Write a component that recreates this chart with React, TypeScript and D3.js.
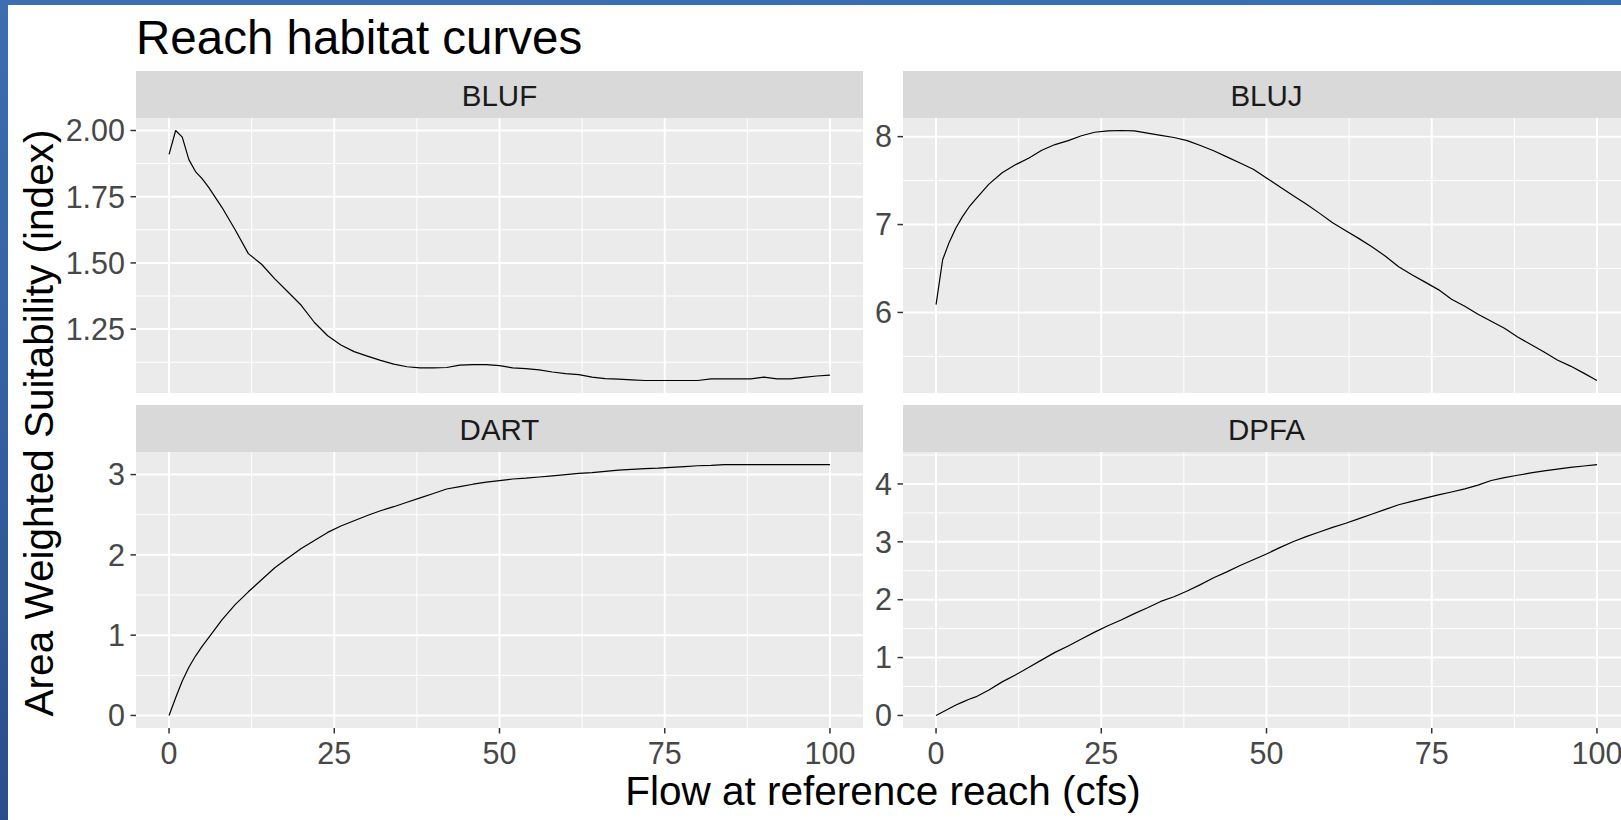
import React from "react";
import * as d3 from "d3";

// Flow values (cfs) shared by every species curve
const FLOWS = [
  0, 1, 2, 3, 4, 5, 6, 8, 10, 12, 14, 16, 18, 20, 22, 24, 26, 28, 30, 32, 34, 36, 38, 40,
  42, 44, 46, 48, 50, 52, 54, 56, 58, 60, 62, 64, 66, 68, 70, 72, 74, 76, 78, 80, 82, 84,
  86, 88, 90, 92, 94, 96, 98, 100,
];

// Area weighted suitability per species
const BLUF = [
  1.91, 2.0, 1.975, 1.89, 1.845, 1.818, 1.785, 1.71, 1.625, 1.535, 1.495, 1.44, 1.39, 1.34,
  1.275, 1.225, 1.19, 1.165, 1.148, 1.132, 1.118, 1.108, 1.104, 1.104, 1.105, 1.114, 1.116,
  1.116, 1.112, 1.104, 1.101, 1.096, 1.088, 1.082, 1.078, 1.069, 1.063, 1.061, 1.058, 1.056,
  1.056, 1.056, 1.056, 1.056, 1.062, 1.062, 1.062, 1.062, 1.069, 1.062, 1.062, 1.068, 1.073,
  1.076,
];
const BLUJ = [
  6.09, 6.6, 6.8, 6.96, 7.09, 7.2, 7.29, 7.46, 7.59, 7.68, 7.755, 7.845, 7.91, 7.955, 8.01,
  8.05, 8.065, 8.07, 8.065, 8.04, 8.015, 7.99, 7.955, 7.9, 7.84, 7.77, 7.7, 7.63, 7.53, 7.43,
  7.33, 7.235, 7.13, 7.02, 6.93, 6.84, 6.745, 6.64, 6.52, 6.43, 6.345, 6.26, 6.15, 6.07, 5.98,
  5.9, 5.82, 5.72, 5.635, 5.55, 5.46, 5.39, 5.31, 5.226,
];
const DART = [
  0.0, 0.22, 0.43, 0.6, 0.74, 0.86, 0.97, 1.19, 1.38, 1.54, 1.69, 1.84, 1.96, 2.08, 2.18,
  2.28, 2.36, 2.425, 2.49, 2.55, 2.6, 2.655, 2.71, 2.765, 2.82, 2.85, 2.88, 2.905, 2.925,
  2.945, 2.955, 2.97, 2.985, 3.0, 3.015, 3.025, 3.04, 3.055, 3.065, 3.075, 3.08, 3.09, 3.1,
  3.11, 3.115, 3.125, 3.125, 3.125, 3.125, 3.125, 3.125, 3.125, 3.125, 3.125,
];
const DPFA = [
  0.0, 0.06, 0.12, 0.18, 0.23, 0.28, 0.32, 0.44, 0.58, 0.7, 0.83, 0.96, 1.09, 1.2, 1.32, 1.44,
  1.55, 1.65, 1.76, 1.86, 1.97, 2.05, 2.15, 2.26, 2.38, 2.48, 2.59, 2.69, 2.79, 2.9, 3.0, 3.09,
  3.17, 3.25, 3.32, 3.4, 3.48, 3.56, 3.64, 3.7, 3.755, 3.81, 3.86, 3.915, 3.98, 4.06, 4.11,
  4.15, 4.19, 4.225, 4.255, 4.285, 4.31, 4.335,
];

// Axis breaks
const X_TICKS = [0, 25, 50, 75, 100];
const BLUF_TICKS = [1.25, 1.5, 1.75, 2.0];
const BLUJ_TICKS = [6, 7, 8];
const DART_TICKS = [0, 1, 2, 3];
const DPFA_TICKS = [0, 1, 2, 3, 4];

const TITLE = "Reach habitat curves";
const X_TITLE = "Flow at reference reach (cfs)";
const Y_TITLE = "Area Weighted Suitability (index)";

const FONT = "'Liberation Sans', Arial, Helvetica, sans-serif";

type Facet = {
  name: string;
  values: number[];
  ticks: number[];
  fmt: (v: number) => string;
  col: number;
  row: number;
};

const FACETS: Facet[] = [
  { name: "BLUF", values: BLUF, ticks: BLUF_TICKS, fmt: d3.format(".2f"), col: 0, row: 0 },
  { name: "BLUJ", values: BLUJ, ticks: BLUJ_TICKS, fmt: d3.format("d"), col: 1, row: 0 },
  { name: "DART", values: DART, ticks: DART_TICKS, fmt: d3.format("d"), col: 0, row: 1 },
  { name: "DPFA", values: DPFA, ticks: DPFA_TICKS, fmt: d3.format("d"), col: 1, row: 1 },
];

// Geometry of the facet grid
const COLS = [
  { x0: 136, x1: 863 },
  { x0: 903, x1: 1630 },
];
const ROWS = [
  { strip0: 71, y0: 118, y1: 393 },
  { strip0: 405, y0: 452, y1: 728 },
];

// ggplot-style 5% expansion of a continuous range
function expand(lo: number, hi: number): [number, number] {
  const pad = (hi - lo) * 0.05;
  return [lo - pad, hi + pad];
}

// Minor breaks halfway between majors, plus one step beyond each end
function minorBreaks(major: number[], domain: [number, number]): number[] {
  const step = major[1] - major[0];
  const out: number[] = [];
  for (let i = -1; i < major.length; i++) {
    const m = major[0] + step * i + step / 2;
    if (m > domain[0] && m < domain[1]) out.push(m);
  }
  return out;
}

function Panel({ f }: { f: Facet }) {
  const c = COLS[f.col];
  const r = ROWS[f.row];
  const xDomain = expand(d3.min(FLOWS)!, d3.max(FLOWS)!);
  const yDomain = expand(d3.min(f.values)!, d3.max(f.values)!);
  const x = d3.scaleLinear().domain(xDomain).range([c.x0, c.x1]);
  const y = d3.scaleLinear().domain(yDomain).range([r.y1, r.y0]);
  const xMinor = minorBreaks(X_TICKS, xDomain);
  const yMinor = minorBreaks(f.ticks, yDomain);
  const line = d3
    .line<number>()
    .x((_, i) => x(FLOWS[i]))
    .y((d) => y(d));
  const tickLen = 5.5;
  const clipId = `clip-${f.name}`;

  return (
    <g>
      <defs>
        <clipPath id={clipId}>
          <rect x={c.x0} y={r.y0} width={c.x1 - c.x0} height={r.y1 - r.y0} />
        </clipPath>
      </defs>
      {/* strip */}
      <rect x={c.x0} y={r.strip0} width={c.x1 - c.x0} height={r.y0 - r.strip0} fill="#D9D9D9" />
      <text
        x={(c.x0 + c.x1) / 2}
        y={(r.strip0 + r.y0) / 2 + 11}
        textAnchor="middle"
        fontSize={29.5}
        fontFamily={FONT}
        fill="#1A1A1A"
      >
        {f.name}
      </text>
      {/* panel background and grid */}
      <rect x={c.x0} y={r.y0} width={c.x1 - c.x0} height={r.y1 - r.y0} fill="#EBEBEB" />
      {yMinor.map((v) => (
        <line key={`ym${v}`} x1={c.x0} x2={c.x1} y1={y(v)} y2={y(v)} stroke="#fff" strokeWidth={1} />
      ))}
      {xMinor.map((v) => (
        <line key={`xm${v}`} x1={x(v)} x2={x(v)} y1={r.y0} y2={r.y1} stroke="#fff" strokeWidth={1} />
      ))}
      {f.ticks.map((v) => (
        <line key={`yM${v}`} x1={c.x0} x2={c.x1} y1={y(v)} y2={y(v)} stroke="#fff" strokeWidth={2} />
      ))}
      {X_TICKS.map((v) => (
        <line key={`xM${v}`} x1={x(v)} x2={x(v)} y1={r.y0} y2={r.y1} stroke="#fff" strokeWidth={2} />
      ))}
      {/* curve */}
      <path
        d={line(f.values) || ""}
        fill="none"
        stroke="#000"
        strokeWidth={1.2}
        strokeLinejoin="round"
        clipPath={`url(#${clipId})`}
      />
      {/* y axis */}
      {f.ticks.map((v) => (
        <g key={`yt${v}`}>
          <line x1={c.x0 - tickLen} x2={c.x0} y1={y(v)} y2={y(v)} stroke="#333" strokeWidth={1.5} />
          <text
            x={c.x0 - tickLen - 5.5}
            y={y(v) + 10.8}
            textAnchor="end"
            fontSize={30.5}
            fontFamily={FONT}
            fill="#474747"
          >
            {f.fmt(v)}
          </text>
        </g>
      ))}
      {/* x axis on the bottom row */}
      {f.row === 1 &&
        X_TICKS.map((v) => (
          <g key={`xt${v}`}>
            <line x1={x(v)} x2={x(v)} y1={r.y1} y2={r.y1 + tickLen} stroke="#333" strokeWidth={1.5} />
            <text
              x={x(v)}
              y={764}
              textAnchor="middle"
              fontSize={30.5}
              fontFamily={FONT}
              fill="#474747"
            >
              {v}
            </text>
          </g>
        ))}
    </g>
  );
}

export default function App() {
  const W = 1621;
  const H = 820;
  const panelsLeft = COLS[0].x0;
  const panelsRight = COLS[1].x1;
  return (
    <div style={{ position: "fixed", left: 0, top: 0 }}>
      <svg width={W} height={H} style={{ display: "block" }}>
        <defs>
          <linearGradient id="frameLeft" x1="0" y1="0" x2="0" y2="1">
            <stop offset="0" stopColor="#3C6EB0" />
            <stop offset="0.5" stopColor="#34609F" />
            <stop offset="1" stopColor="#2A4C8C" />
          </linearGradient>
          <linearGradient id="frameTop" x1="0" y1="0" x2="1" y2="0">
            <stop offset="0" stopColor="#3C6EB0" />
            <stop offset="1" stopColor="#3470B6" />
          </linearGradient>
        </defs>
        <rect x={0} y={0} width={W} height={H} fill="#fff" />
        <rect x={0} y={0} width={8} height={H} fill="url(#frameLeft)" />
        <rect x={0} y={0} width={W} height={5} fill="url(#frameTop)" />

        <text x={136} y={53.5} fontSize={47.5} fontFamily={FONT} fill="#000">
          {TITLE}
        </text>

        {FACETS.map((f) => (
          <Panel key={f.name} f={f} />
        ))}

        <text
          x={(panelsLeft + panelsRight) / 2}
          y={805}
          textAnchor="middle"
          fontSize={40.5}
          fontFamily={FONT}
          fill="#000"
        >
          {X_TITLE}
        </text>
        <text
          transform={`translate(53, ${(ROWS[0].y0 + ROWS[1].y1) / 2}) rotate(-90)`}
          textAnchor="middle"
          fontSize={40.5}
          fontFamily={FONT}
          fill="#000"
        >
          {Y_TITLE}
        </text>
      </svg>
    </div>
  );
}
